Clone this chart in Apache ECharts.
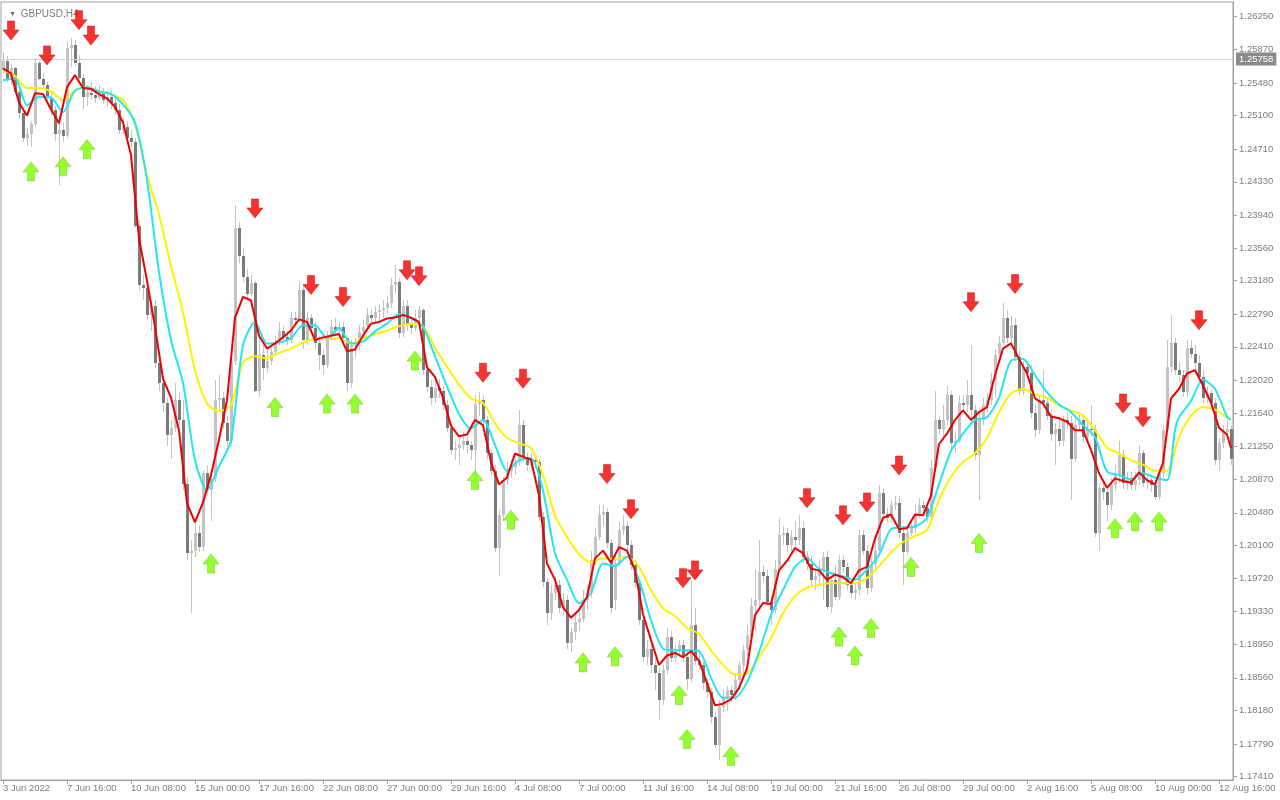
<!DOCTYPE html>
<html><head><meta charset="utf-8">
<script src="https://cdn.jsdelivr.net/npm/echarts@6/dist/echarts.min.js"></script>
<style>html,body{margin:0;padding:0;background:#fff}#c{width:1280px;height:800px}</style>
</head><body><div id="c"></div>
<script>
const symbolName = 'GBPUSD,H4';
const currentPrice = 1.25758;
const xTickLabels = ['3 Jun 2022','7 Jun 16:00','10 Jun 08:00','15 Jun 00:00','17 Jun 16:00','22 Jun 08:00','27 Jun 00:00','29 Jun 16:00','4 Jul 08:00','7 Jul 00:00','11 Jul 16:00','14 Jul 08:00','19 Jul 00:00','21 Jul 16:00','26 Jul 08:00','29 Jul 00:00','2 Aug 16:00','5 Aug 08:00','10 Aug 00:00','12 Aug 16:00'];
const yTickValues = [1.17410,1.17790,1.18180,1.18560,1.18950,1.19330,1.19720,1.20100,1.20480,1.20870,1.21250,1.21640,1.22020,1.22410,1.22790,1.23180,1.23560,1.23940,1.24330,1.24710,1.25100,1.25480,1.25870,1.26250];
// [open, close, low, high]
const ohlc = [
[1.2563,1.2574,1.2558,1.2584],[1.2574,1.2553,1.2549,1.2579],[1.2553,1.2565,1.2546,1.2570],[1.2565,1.2537,1.2534,1.2567],[1.2537,1.2513,1.2507,1.2542],
[1.2513,1.2484,1.2479,1.2518],[1.2484,1.2488,1.2475,1.2495],[1.2488,1.2500,1.2474,1.2504],[1.2500,1.2571,1.2497,1.2577],[1.2571,1.2553,1.2551,1.2574],
[1.2553,1.2545,1.2542,1.2560],[1.2545,1.2531,1.2528,1.2549],[1.2531,1.2516,1.2511,1.2537],[1.2516,1.2489,1.2481,1.2521],[1.2489,1.2493,1.2429,1.2502],
[1.2493,1.2486,1.2479,1.2502],[1.2486,1.2589,1.2484,1.2595],[1.2589,1.2592,1.2567,1.2600],[1.2592,1.2571,1.2567,1.2598],[1.2571,1.2554,1.2551,1.2580],
[1.2554,1.2532,1.2518,1.2558],[1.2532,1.2536,1.2521,1.2546],[1.2536,1.2534,1.2528,1.2549],[1.2534,1.2531,1.2525,1.2544],[1.2531,1.2537,1.2528,1.2546],
[1.2537,1.2528,1.2523,1.2542],[1.2528,1.2532,1.2521,1.2539],[1.2532,1.2525,1.2518,1.2539],[1.2525,1.2516,1.2511,1.2532],[1.2516,1.2493,1.2488,1.2523],
[1.2493,1.2497,1.2488,1.2507],[1.2497,1.2484,1.2479,1.2504],[1.2484,1.2479,1.2474,1.2493],[1.2479,1.2382,1.2379,1.2484],[1.2382,1.2313,1.2307,1.2388],
[1.2313,1.2310,1.2295,1.2324],[1.2310,1.2278,1.2272,1.2318],[1.2278,1.2289,1.2260,1.2295],[1.2289,1.2222,1.2216,1.2295],[1.2222,1.2199,1.2190,1.2231],
[1.2199,1.2176,1.2165,1.2204],[1.2176,1.2138,1.2126,1.2181],[1.2138,1.2147,1.2111,1.2156],[1.2147,1.2179,1.2142,1.2199],[1.2179,1.2156,1.2150,1.2188],
[1.2156,1.2082,1.2074,1.2179],[1.2082,1.2001,1.1993,1.2088],[1.2001,1.2004,1.1932,1.2016],[1.2004,1.2024,1.1997,1.2039],[1.2024,1.2008,1.2002,1.2033],
[1.2008,1.2094,1.2004,1.2097],[1.2094,1.2074,1.2068,1.2103],[1.2074,1.2088,1.2039,1.2097],[1.2088,1.2179,1.2084,1.2202],[1.2179,1.2181,1.2167,1.2208],
[1.2181,1.2152,1.2146,1.2188],[1.2152,1.2132,1.2126,1.2161],[1.2132,1.2225,1.2126,1.2237],[1.2225,1.2379,1.2220,1.2406],[1.2379,1.2347,1.2339,1.2386],
[1.2347,1.2322,1.2316,1.2356],[1.2322,1.2303,1.2295,1.2332],[1.2303,1.2315,1.2300,1.2324],[1.2315,1.2190,1.2188,1.2318],[1.2190,1.2231,1.2183,1.2254],
[1.2231,1.2216,1.2202,1.2243],[1.2216,1.2225,1.2211,1.2237],[1.2225,1.2235,1.2220,1.2243],[1.2235,1.2246,1.2231,1.2254],[1.2246,1.2260,1.2242,1.2270],
[1.2260,1.2253,1.2249,1.2265],[1.2253,1.2249,1.2243,1.2260],[1.2249,1.2274,1.2246,1.2281],[1.2274,1.2272,1.2266,1.2281],[1.2272,1.2307,1.2270,1.2318],
[1.2307,1.2249,1.2239,1.2313],[1.2249,1.2274,1.2243,1.2281],[1.2274,1.2263,1.2258,1.2279],[1.2263,1.2246,1.2239,1.2270],[1.2246,1.2231,1.2214,1.2254],
[1.2231,1.2220,1.2208,1.2239],[1.2220,1.2254,1.2216,1.2260],[1.2254,1.2264,1.2249,1.2272],[1.2264,1.2260,1.2256,1.2274],[1.2260,1.2264,1.2257,1.2270],
[1.2264,1.2251,1.2246,1.2270],[1.2251,1.2199,1.2190,1.2254],[1.2199,1.2243,1.2193,1.2249],[1.2243,1.2245,1.2228,1.2251],[1.2245,1.2258,1.2237,1.2266],
[1.2258,1.2264,1.2251,1.2272],[1.2264,1.2278,1.2258,1.2286],[1.2278,1.2274,1.2270,1.2284],[1.2274,1.2281,1.2267,1.2289],[1.2281,1.2284,1.2272,1.2291],
[1.2284,1.2286,1.2274,1.2295],[1.2286,1.2292,1.2279,1.2300],[1.2292,1.2313,1.2286,1.2321],[1.2313,1.2316,1.2304,1.2336],[1.2316,1.2257,1.2251,1.2321],
[1.2257,1.2289,1.2253,1.2295],[1.2289,1.2266,1.2260,1.2295],[1.2266,1.2263,1.2256,1.2274],[1.2263,1.2274,1.2260,1.2284],[1.2274,1.2284,1.2270,1.2289],
[1.2284,1.2214,1.2208,1.2286],[1.2214,1.2194,1.2188,1.2220],[1.2194,1.2181,1.2173,1.2202],[1.2181,1.2193,1.2176,1.2200],[1.2193,1.2190,1.2181,1.2204],
[1.2190,1.2173,1.2167,1.2196],[1.2173,1.2147,1.2142,1.2179],[1.2147,1.2121,1.2115,1.2153],[1.2121,1.2123,1.2109,1.2132],[1.2123,1.2127,1.2103,1.2135],
[1.2127,1.2132,1.2121,1.2142],[1.2132,1.2127,1.2118,1.2137],[1.2127,1.2121,1.2109,1.2132],[1.2121,1.2175,1.2080,1.2185],[1.2175,1.2179,1.2161,1.2188],
[1.2179,1.2156,1.2150,1.2185],[1.2156,1.2117,1.2111,1.2161],[1.2117,1.2097,1.2092,1.2121],[1.2097,1.2007,1.2002,1.2103],[1.2007,1.2045,1.1975,1.2051],
[1.2045,1.2086,1.2039,1.2090],[1.2086,1.2097,1.2080,1.2107],[1.2097,1.2101,1.2090,1.2109],[1.2101,1.2107,1.2092,1.2115],[1.2107,1.2150,1.2102,1.2167],
[1.2150,1.2113,1.2107,1.2156],[1.2113,1.2103,1.2097,1.2118],[1.2103,1.2109,1.2097,1.2118],[1.2109,1.2107,1.2100,1.2115],[1.2107,1.2043,1.2039,1.2111],
[1.2043,1.1967,1.1962,1.2049],[1.1967,1.1932,1.1917,1.1972],[1.1932,1.1955,1.1923,1.1964],[1.1955,1.1964,1.1946,1.1975],[1.1964,1.1937,1.1932,1.1970],
[1.1937,1.1946,1.1929,1.1955],[1.1946,1.1896,1.1890,1.1952],[1.1896,1.1909,1.1886,1.1914],[1.1909,1.1921,1.1900,1.1929],[1.1921,1.1925,1.1911,1.1940],
[1.1925,1.1946,1.1921,1.1958],[1.1946,1.1955,1.1935,1.1964],[1.1955,1.1993,1.1949,1.2004],[1.1993,1.2020,1.1987,1.2030],[1.2020,1.2045,1.2016,1.2057],
[1.2045,1.2049,1.2033,1.2057],[1.2049,1.2013,1.2007,1.2053],[1.2013,1.1937,1.1932,1.2018],[1.1946,1.1990,1.1935,1.1999],[1.1990,1.2028,1.1986,1.2037],
[1.2028,1.2033,1.2022,1.2045],[1.2033,1.2010,1.2004,1.2039],[1.2010,1.1987,1.1981,1.2016],[1.1987,1.1966,1.1960,1.1993],[1.1966,1.1923,1.1917,1.1970],
[1.1923,1.1880,1.1874,1.1929],[1.1880,1.1890,1.1871,1.1900],[1.1890,1.1871,1.1862,1.1894],[1.1871,1.1862,1.1842,1.1879],[1.1862,1.1830,1.1807,1.1867],
[1.1830,1.1865,1.1824,1.1871],[1.1865,1.1904,1.1859,1.1914],[1.1904,1.1879,1.1874,1.1911],[1.1879,1.1888,1.1874,1.1894],[1.1888,1.1894,1.1882,1.1900],
[1.1894,1.1880,1.1874,1.1900],[1.1880,1.1855,1.1842,1.1888],[1.1855,1.1917,1.1851,1.1970],[1.1917,1.1876,1.1871,1.1937],[1.1876,1.1871,1.1865,1.1888],
[1.1871,1.1850,1.1842,1.1876],[1.1850,1.1839,1.1832,1.1856],[1.1839,1.1810,1.1804,1.1844],[1.1810,1.1778,1.1774,1.1816],[1.1778,1.1822,1.1760,1.1830],
[1.1822,1.1832,1.1816,1.1842],[1.1832,1.1842,1.1818,1.1847],[1.1842,1.1836,1.1828,1.1847],[1.1836,1.1853,1.1830,1.1862],[1.1853,1.1871,1.1847,1.1876],
[1.1871,1.1888,1.1862,1.1894],[1.1888,1.1905,1.1882,1.1917],[1.1905,1.1940,1.1900,1.1949],[1.1940,1.1946,1.1911,1.1983],[1.1946,1.1979,1.1940,1.2016],
[1.1979,1.1975,1.1967,1.1987],[1.1975,1.1944,1.1939,1.1981],[1.1944,1.1935,1.1917,1.1950],[1.1935,1.1983,1.1932,1.1993],[1.1983,1.2022,1.1979,1.2042],
[1.2022,1.2024,1.2010,1.2033],[1.2024,1.2010,1.2002,1.2030],[1.2010,1.2020,1.2004,1.2028],[1.2020,1.2016,1.2007,1.2039],[1.2016,1.2030,1.2010,1.2045],
[1.2030,1.1996,1.1990,1.2039],[1.1996,1.1989,1.1981,1.2004],[1.1989,1.1970,1.1964,1.1998],[1.1970,1.1975,1.1958,1.1983],[1.1975,1.1981,1.1964,1.1993],
[1.1981,1.1996,1.1946,1.2002],[1.1996,1.1938,1.1935,1.2004],[1.1938,1.1970,1.1932,1.1975],[1.1970,1.1950,1.1946,1.1987],[1.1950,1.1993,1.1946,1.1999],
[1.1993,1.1985,1.1979,1.1999],[1.1985,1.1964,1.1958,1.1991],[1.1964,1.1955,1.1949,1.1970],[1.1955,1.1958,1.1946,1.1966],[1.1958,1.2022,1.1952,1.2028],
[1.2022,1.2004,1.1999,1.2028],[1.2004,1.1960,1.1952,1.2010],[1.1960,1.1989,1.1956,1.1995],[1.1989,1.2004,1.1983,1.2016],[1.2004,1.2071,1.1999,1.2080],
[1.2071,1.2047,1.2039,1.2076],[1.2047,1.2042,1.2037,1.2053],[1.2042,1.2057,1.2037,1.2062],[1.2057,1.2059,1.2051,1.2068],[1.2059,1.2024,1.2019,1.2068],
[1.2024,1.2002,1.1964,1.2030],[1.2002,1.2024,1.1999,1.2030],[1.2024,1.2030,1.2021,1.2039],[1.2030,1.2047,1.2025,1.2057],[1.2047,1.2057,1.2042,1.2065],
[1.2057,1.2054,1.2049,1.2062],[1.2054,1.2043,1.2037,1.2059],[1.2043,1.2100,1.2039,1.2109],[1.2100,1.2156,1.2095,1.2190],[1.2156,1.2146,1.2138,1.2161],
[1.2146,1.2156,1.2132,1.2173],[1.2156,1.2185,1.2150,1.2196],[1.2185,1.2129,1.2123,1.2190],[1.2129,1.2132,1.2118,1.2142],[1.2132,1.2176,1.2129,1.2185],
[1.2176,1.2173,1.2165,1.2185],[1.2173,1.2185,1.2165,1.2202],[1.2185,1.2167,1.2158,1.2243],[1.2167,1.2115,1.2109,1.2173],[1.2115,1.2156,1.2063,1.2165],
[1.2156,1.2173,1.2150,1.2181],[1.2173,1.2179,1.2165,1.2187],[1.2179,1.2202,1.2173,1.2211],[1.2202,1.2231,1.2181,1.2239],[1.2231,1.2246,1.2225,1.2254],
[1.2246,1.2275,1.2243,1.2292],[1.2275,1.2251,1.2246,1.2284],[1.2251,1.2266,1.2246,1.2277],[1.2266,1.2229,1.2225,1.2274],[1.2229,1.2190,1.2185,1.2237],
[1.2190,1.2217,1.2185,1.2225],[1.2217,1.2211,1.2204,1.2225],[1.2211,1.2164,1.2158,1.2220],[1.2164,1.2144,1.2136,1.2173],[1.2144,1.2179,1.2140,1.2185],
[1.2179,1.2176,1.2170,1.2214],[1.2176,1.2161,1.2156,1.2181],[1.2161,1.2140,1.2132,1.2167],[1.2140,1.2146,1.2103,1.2153],[1.2146,1.2132,1.2126,1.2156],
[1.2132,1.2156,1.2126,1.2161],[1.2156,1.2153,1.2146,1.2165],[1.2153,1.2111,1.2063,1.2161],[1.2111,1.2150,1.2107,1.2158],[1.2150,1.2156,1.2144,1.2165],
[1.2156,1.2136,1.2130,1.2161],[1.2136,1.2146,1.2132,1.2156],[1.2146,1.2144,1.2137,1.2173],[1.2144,1.2025,1.2020,1.2150],[1.2025,1.2077,1.2004,1.2082],
[1.2077,1.2072,1.2063,1.2086],[1.2072,1.2057,1.2039,1.2076],[1.2057,1.2080,1.2051,1.2088],[1.2080,1.2092,1.2074,1.2103],[1.2092,1.2115,1.2083,1.2132],
[1.2115,1.2083,1.2076,1.2121],[1.2083,1.2088,1.2074,1.2095],[1.2088,1.2080,1.2074,1.2095],[1.2080,1.2086,1.2074,1.2095],[1.2086,1.2117,1.2080,1.2127],
[1.2117,1.2083,1.2078,1.2121],[1.2083,1.2086,1.2076,1.2093],[1.2086,1.2080,1.2072,1.2090],[1.2080,1.2066,1.2063,1.2086],[1.2066,1.2094,1.2063,1.2100],
[1.2094,1.2144,1.2089,1.2150],[1.2144,1.2217,1.2139,1.2249],[1.2217,1.2246,1.2211,1.2278],[1.2246,1.2214,1.2208,1.2251],[1.2214,1.2208,1.2200,1.2223],
[1.2208,1.2188,1.2183,1.2214],[1.2188,1.2240,1.2183,1.2249],[1.2240,1.2233,1.2228,1.2249],[1.2233,1.2222,1.2214,1.2243],[1.2222,1.2206,1.2199,1.2231],
[1.2206,1.2182,1.2176,1.2214],[1.2182,1.2187,1.2176,1.2196],[1.2187,1.2176,1.2167,1.2191],[1.2176,1.2109,1.2103,1.2181],[1.2109,1.2129,1.2097,1.2135],
[1.2129,1.2142,1.2123,1.2150],[1.2142,1.2146,1.2137,1.2156],[1.2146,1.2111,1.2103,1.2150]
];
// moving average lines: [bar index, price]
const maRed = [[0,1.2565],[2,1.2559],[4,1.2525],[6,1.2510],[8,1.2536],[10,1.2535],[12,1.2517],[14,1.2501],[16,1.2543],[18,1.2557],[20,1.2542],[22,1.2541],[24,1.2535],[26,1.2530],[28,1.2520],[30,1.2502],[32,1.2464],[34,1.2367],[36,1.2318],[38,1.2264],[40,1.2204],[42,1.2182],[44,1.2144],[46,1.2059],[48,1.2037],[50,1.2060],[52,1.2092],[54,1.2133],[56,1.2179],[58,1.2275],[60,1.2299],[62,1.2295],[64,1.2254],[66,1.2239],[68,1.2245],[70,1.2252],[72,1.2260],[74,1.2273],[76,1.2270],[78,1.2249],[80,1.2252],[82,1.2254],[84,1.2256],[86,1.2236],[88,1.2238],[90,1.2254],[92,1.2268],[94,1.2270],[96,1.2274],[98,1.2275],[100,1.2278],[102,1.2275],[104,1.2270],[106,1.2217],[108,1.2206],[110,1.2182],[112,1.2149],[114,1.2137],[116,1.2139],[118,1.2156],[120,1.2150],[122,1.2107],[124,1.2081],[126,1.2089],[128,1.2117],[130,1.2113],[132,1.2110],[134,1.2068],[136,1.1989],[138,1.1970],[140,1.1938],[142,1.1926],[144,1.1935],[146,1.1950],[148,1.1995],[150,1.2004],[152,1.1990],[154,1.2008],[156,1.2004],[158,1.1981],[160,1.1930],[162,1.1900],[164,1.1871],[166,1.1882],[168,1.1885],[170,1.1880],[172,1.1887],[174,1.1876],[176,1.1850],[178,1.1824],[180,1.1826],[182,1.1831],[184,1.1844],[186,1.1867],[188,1.1929],[190,1.1943],[192,1.1942],[194,1.1981],[196,1.1992],[198,1.2007],[200,1.2001],[202,1.1983],[204,1.1981],[206,1.1970],[208,1.1976],[210,1.1973],[212,1.1966],[214,1.1981],[216,1.1985],[218,1.2018],[220,1.2042],[222,1.2046],[224,1.2029],[226,1.2030],[228,1.2046],[230,1.2045],[232,1.2068],[234,1.2128],[236,1.2140],[238,1.2156],[240,1.2167],[242,1.2156],[244,1.2165],[246,1.2171],[248,1.2208],[250,1.2239],[252,1.2245],[254,1.2227],[256,1.2210],[258,1.2181],[260,1.2175],[262,1.2160],[264,1.2158],[266,1.2154],[268,1.2144],[270,1.2144],[272,1.2121],[274,1.2094],[276,1.2077],[278,1.2088],[280,1.2085],[282,1.2083],[284,1.2095],[286,1.2086],[288,1.2081],[290,1.2106],[292,1.2181],[294,1.2192],[296,1.2210],[298,1.2214],[300,1.2196],[302,1.2176],[304,1.2147],[306,1.2139],[307,1.2123]];
const maCyan = [[0,1.2551],[3,1.2553],[6,1.2522],[9,1.2532],[12,1.2531],[15,1.2514],[18,1.2539],[21,1.2543],[24,1.2538],[27,1.2535],[30,1.2523],[33,1.2502],[36,1.2435],[39,1.2328],[42,1.2249],[45,1.2199],[48,1.2109],[51,1.2074],[54,1.2102],[57,1.2132],[60,1.2243],[63,1.2270],[66,1.2245],[69,1.2246],[72,1.2251],[75,1.2266],[78,1.2266],[81,1.2251],[84,1.2263],[87,1.2245],[90,1.2247],[93,1.2259],[96,1.2268],[99,1.2279],[102,1.2274],[105,1.2264],[108,1.2230],[111,1.2195],[114,1.2163],[117,1.2146],[120,1.2156],[123,1.2127],[126,1.2097],[129,1.2109],[132,1.2111],[135,1.2074],[138,1.2001],[141,1.1970],[144,1.1943],[147,1.1955],[150,1.1989],[153,1.1986],[156,1.1997],[159,1.1970],[162,1.1923],[165,1.1890],[168,1.1888],[171,1.1888],[174,1.1887],[177,1.1856],[180,1.1833],[183,1.1833],[186,1.1851],[189,1.1886],[192,1.1929],[195,1.1958],[198,1.1985],[201,1.1995],[204,1.1983],[207,1.1978],[210,1.1974],[213,1.1970],[216,1.1982],[219,1.1999],[222,1.2029],[225,1.2031],[228,1.2032],[231,1.2042],[234,1.2081],[237,1.2120],[240,1.2140],[243,1.2156],[246,1.2159],[249,1.2182],[252,1.2225],[255,1.2227],[258,1.2208],[261,1.2188],[264,1.2174],[267,1.2165],[270,1.2150],[273,1.2136],[276,1.2096],[279,1.2092],[282,1.2087],[285,1.2094],[288,1.2089],[291,1.2086],[293,1.2144],[294,1.2159],[297,1.2178],[300,1.2203],[303,1.2192],[306,1.2160],[307,1.2156]];
const maYellow = [[0,1.2563],[3,1.2556],[6,1.2542],[9,1.2542],[12,1.2538],[15,1.2528],[18,1.2539],[21,1.2543],[24,1.2538],[27,1.2535],[30,1.2528],[33,1.2500],[36,1.2441],[39,1.2395],[42,1.2335],[45,1.2281],[48,1.2214],[51,1.2175],[54,1.2166],[57,1.2173],[60,1.2223],[63,1.2230],[66,1.2228],[69,1.2234],[72,1.2239],[75,1.2246],[78,1.2250],[81,1.2250],[84,1.2251],[87,1.2245],[90,1.2251],[93,1.2256],[96,1.2260],[99,1.2265],[102,1.2268],[105,1.2265],[108,1.2240],[111,1.2218],[114,1.2197],[117,1.2181],[120,1.2176],[123,1.2152],[126,1.2135],[129,1.2129],[132,1.2123],[135,1.2092],[138,1.2045],[141,1.2020],[144,1.2000],[147,1.1990],[150,1.1995],[153,1.1994],[156,1.1997],[159,1.1985],[162,1.1958],[165,1.1937],[168,1.1928],[171,1.1914],[174,1.1907],[177,1.1888],[180,1.1871],[183,1.1860],[186,1.1861],[189,1.1880],[192,1.1902],[195,1.1931],[198,1.1951],[201,1.1961],[204,1.1964],[207,1.1966],[210,1.1966],[213,1.1966],[216,1.1972],[219,1.1986],[222,1.2002],[225,1.2014],[228,1.2021],[231,1.2028],[234,1.2063],[237,1.2090],[240,1.2107],[243,1.2117],[246,1.2135],[249,1.2165],[252,1.2187],[255,1.2192],[258,1.2186],[261,1.2182],[264,1.2173],[267,1.2167],[270,1.2161],[273,1.2144],[276,1.2124],[279,1.2117],[282,1.2109],[285,1.2104],[288,1.2097],[291,1.2097],[294,1.2136],[297,1.2161],[300,1.2171],[303,1.2168],[306,1.2159],[307,1.2156]];
const downArrows = [[2,1.2609],[11,1.2580],[19,1.2621],[22,1.2603],[63,1.2402],[77,1.2313],[85,1.2299],[101,1.2330],[104,1.2323],[120,1.2211],[130,1.2204],[151,1.2093],[157,1.2052],[170,1.1972],[173,1.1981],[201,1.2065],[210,1.2045],[216,1.2060],[224,1.2103],[242,1.2293],[253,1.2314],[280,1.2175],[285,1.2159],[299,1.2272]];
const upArrows = [[7,1.2445],[15,1.2451],[21,1.2471],[52,1.1989],[68,1.2171],[81,1.2175],[88,1.2175],[103,1.2225],[118,1.2086],[127,1.2040],[145,1.1874],[153,1.1881],[169,1.1836],[171,1.1785],[182,1.1765],[209,1.1904],[213,1.1882],[217,1.1914],[227,1.1985],[244,1.2013],[278,1.2030],[283,1.2038],[289,1.2038]];

const FONT = "'Liberation Sans', Arial, sans-serif";
const TXT = '#7c7c7c';
const categories = ohlc.map((_, i) => i);
const candleData = ohlc.map((b, i) => [i, b[0], b[1], b[2], b[3]]);

const chart = echarts.init(document.getElementById('c'), null, {renderer: 'canvas'});
chart.setOption({
  animation: false,
  backgroundColor: '#ffffff',
  title: {
    text: '{t|▼} ' + symbolName, left: 4, top: 4,
    textStyle: {fontFamily: FONT, fontSize: 10, fontWeight: 'normal', color: TXT,
      rich: {t: {fontSize: 7, color: '#6a6a6a', padding: [0, 2, 0, 0]}}}
  },
  grid: {left: 1, right: 47, top: 2, bottom: 20, show: true, borderColor: '#a0a0a0', borderWidth: 1},
  xAxis: {
    type: 'category', data: categories, boundaryGap: true,
    axisLine: {show: true, lineStyle: {color: '#a0a0a0'}},
    axisTick: {show: true, interval: 15, alignWithLabel: true, length: 4, lineStyle: {color: '#a0a0a0'}},
    axisLabel: {interval: 15, align: 'left', margin: 3, color: TXT, fontSize: 9.5, fontFamily: FONT,
      formatter: (v, idx) => xTickLabels[idx / 16] || ''},
    splitLine: {show: false}
  },
  yAxis: {
    type: 'value', position: 'right', min: 1.17372, max: 1.26421,
    axisLine: {show: true, lineStyle: {color: '#a0a0a0'}},
    axisTick: {show: true, length: 4, customValues: yTickValues, lineStyle: {color: '#a0a0a0'}},
    axisLabel: {customValues: yTickValues, margin: 6, color: TXT, fontSize: 9.5, fontFamily: FONT,
      formatter: v => Number(v).toFixed(5)},
    splitLine: {show: false}
  },
  series: [
    {
      type: 'line', name: 'price', data: [], silent: true, z: 1,
      markLine: {silent: true, symbol: ['none', 'none'], animation: false, precision: 5,
        lineStyle: {color: '#d0d0d0', type: 'solid', width: 1},
        label: {show: true, position: 'end', distance: 3, formatter: () => currentPrice.toFixed(5),
          backgroundColor: '#8a8a8a', color: '#ffffff', padding: [2, 3, 1, 3], fontSize: 9.5, fontFamily: FONT},
        data: [{yAxis: currentPrice}]}
    },
    {
      type: 'custom', name: 'GBPUSD', data: candleData, z: 2,
      encode: {x: 0, y: [1, 2, 3, 4]},
      renderItem: (params, api) => {
        const i = api.value(0), o = api.value(1), c = api.value(2), l = api.value(3), h = api.value(4);
        const pO = api.coord([i, o]), pC = api.coord([i, c]), pL = api.coord([i, l]), pH = api.coord([i, h]);
        const cx = Math.round(pO[0]);
        const yH = Math.round(pH[1]), yL = Math.round(pL[1]);
        const top = Math.round(Math.min(pO[1], pC[1]));
        let bot = Math.round(Math.max(pO[1], pC[1]));
        if (bot - top < 1) bot = top + 1;
        const bull = c >= o;
        return {type: 'group', children: [
          {type: 'rect', shape: {x: cx, y: yH, width: 1, height: Math.max(1, yL - yH)}, style: {fill: '#c3c3c3'}},
          {type: 'rect', shape: {x: cx - 1, y: top, width: 3, height: bot - top}, style: {fill: bull ? '#c3c3c3' : '#7a7a7a'}}
        ]};
      }
    },
    {type: 'line', name: 'MA slow', data: maYellow, showSymbol: false, symbol: 'none', smooth: 0.25, z: 3,
     lineStyle: {color: '#fff200', width: 2}},
    {type: 'line', name: 'MA mid', data: maCyan, showSymbol: false, symbol: 'none', smooth: 0.25, z: 4,
     lineStyle: {color: '#22e6f2', width: 2}},
    {type: 'line', name: 'MA fast', data: maRed, showSymbol: false, symbol: 'none', z: 5,
     lineStyle: {color: '#ee0000', width: 2}},
    {type: 'scatter', name: 'Sell', data: downArrows, z: 6,
     symbol: 'path://M4.5,0L11.5,0L11.5,9L16,9L8,19L0,9L4.5,9Z', symbolSize: [16, 19],
     itemStyle: {color: '#f20000', borderColor: '#c80000', borderWidth: 0.6}},
    {type: 'scatter', name: 'Buy', data: upArrows, z: 6,
     symbol: 'path://M8,0L16,10L11.5,10L11.5,19L4.5,19L4.5,10L0,10Z', symbolSize: [16, 19],
     itemStyle: {color: '#7cfc00', borderColor: '#60d000', borderWidth: 0.6}}
  ]
});
</script>
</body></html>
